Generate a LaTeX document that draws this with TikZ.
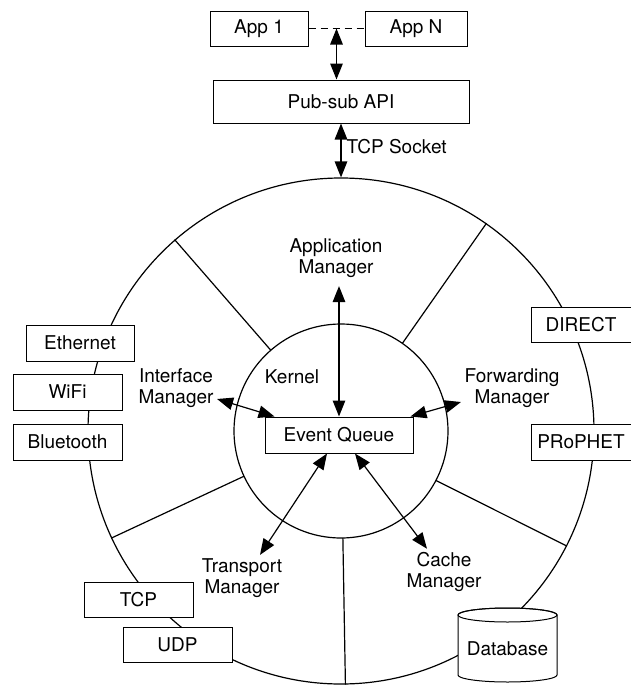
\documentclass[tikz,border=0pt]{standalone}
\usepackage{fontspec}
\setmainfont{TeX Gyre Heros}
\usetikzlibrary{arrows.meta}
\usetikzlibrary{calc}

\tikzset{
  box/.style={shape=rectangle, draw=black, fill=white, line width=1pt, inner sep=0pt},
  lbl/.style={align=center, inner sep=3pt},
  >={Triangle[length=16pt,width=12.5pt]},
}

\begin{document}
\begin{tikzpicture}[x=1pt, y=1pt, line width=1.2pt,
    font=\fontsize{19pt}{21pt}\selectfont]
  \useasboundingbox (0,0) rectangle (631,-686);

  % rings
  \node [shape=circle, draw=black, inner sep=0pt, minimum size=506pt] (ring) at (341,-431) {};
  \foreach \a in {131,55,205,271,-27.5}
    \draw (ring.center) ++(\a:107pt) -- (ring.\a);
  \node [shape=circle, draw=black, fill=white, inner sep=0pt, minimum size=214pt] (core) at (341,-431) {};

  % apps and api
  \node [box, minimum width=98pt, minimum height=35pt] (app1) at (259,-28.5) {App 1};
  \node [box, minimum width=102pt, minimum height=35pt] (appN) at (416,-28.5) {App N};
  \node [box, minimum width=256pt, minimum height=43pt] (api) at (341,-101.5) {Pub-sub API};
  \coordinate (apps) at ($(app1.east)!0.5!(appN.west)$);

  % interfaces
  \node [box, minimum width=108pt, minimum height=36pt] (eth) at (80,-343) {Ethernet};
  \node [box, minimum width=109pt, minimum height=36pt] (wifi) at (67.5,-392) {WiFi};
  \node [box, minimum width=109pt, minimum height=36pt] (bt) at (67.5,-442) {Bluetooth};

  % forwarding
  \node [box, minimum width=100pt, minimum height=35pt] (direct) at (581,-324.5) {DIRECT};
  \node [box, minimum width=100pt, minimum height=36pt] (prophet) at (581,-442) {PRoPHET};

  % transport
  \node [box, minimum width=109pt, minimum height=35pt] (tcp) at (138.5,-599.5) {TCP};
  \node [box, minimum width=109pt, minimum height=35pt] (udp) at (177.5,-644.5) {UDP};

  % cache
  \draw [fill=white, line width=1pt] (458,-615) -- (458,-675)
    arc [start angle=180, end angle=360, x radius=49.5, y radius=7] -- (557,-615)
    arc [start angle=0, end angle=180, x radius=49.5, y radius=7] -- cycle;
  \draw [line width=1pt] (507.5,-615) ellipse [x radius=49.5, y radius=7];
  \node (db) at (507.5,-649) {Database};

  % kernel
  \node [box, minimum width=148pt, minimum height=36pt] (eq) at (339,-435) {Event Queue};
  \node (kernel) at (292,-377) {Kernel};
  \node [lbl] (appmgr) at (336,-258) {Application\\Manager};
  \node [lbl] (ifmgr) at (176,-388) {Interface\\Manager};
  \node [lbl] (fwdmgr) at (512,-388) {Forwarding\\Manager};
  \node [lbl] (tpmgr) at (242,-578) {Transport\\Manager};
  \node [lbl] (cachemgr) at (444,-572) {Cache\\Manager};
  \node [anchor=west, inner sep=0pt] (sock) at (346,-147) {TCP Socket};

  \draw [dash pattern=on 7pt off 5pt, line width=1pt] (app1) -- (appN);
  \path [<->] (apps) edge (apps |- api.north);
  \path [<->] (api.south) edge (ring.north);

  \path [<->] ([yshift=-5pt]appmgr.south -| eq.north) edge (eq.north);
  \path [<->] ([yshift=-11pt]ifmgr.east) edge ([xshift=10pt]eq.north west);
  \path [<->] ([xshift=-3pt]eq.north east) edge ([yshift=-14pt]fwdmgr.west);
  \path [<->] ([xshift=-12pt]eq.south) edge ([xshift=18pt]tpmgr.north);
  \path [<->] ([xshift=16pt]eq.south) edge ([xshift=-17pt]cachemgr.north);
\end{tikzpicture}
\end{document}
